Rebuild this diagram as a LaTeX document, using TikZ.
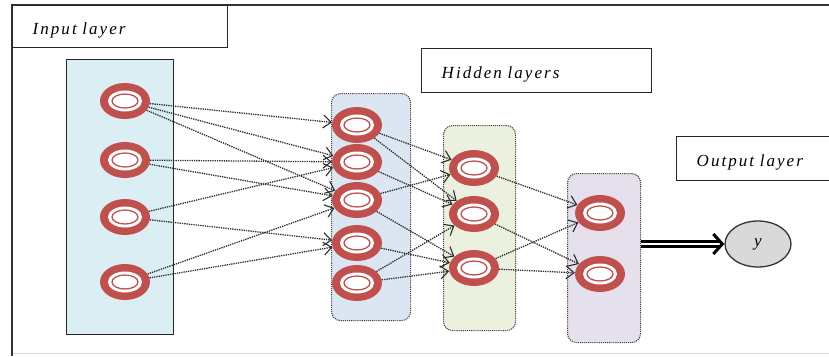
\documentclass[tikz,border=0pt]{standalone}
\usepackage{fontspec}
\newfontfamily\layerfont[LetterSpace=12]{Liberation Serif}
\usetikzlibrary{arrows.meta,positioning,shapes.geometric}
\definecolor{neuronred}{RGB}{192,80,77}
\definecolor{inputbg}{RGB}{218,238,243}
\definecolor{hiddenbgA}{RGB}{220,230,242}
\definecolor{hiddenbgB}{RGB}{235,241,222}
\definecolor{outputbg}{RGB}{229,224,236}
\definecolor{linkgray}{RGB}{45,45,45}

\tikzset{
  neuron/.style={ellipse, fill=neuronred, minimum width=50pt, minimum height=36pt, inner sep=0pt,
    path picture={
      \fill[white] (path picture bounding box.center) ellipse (17pt and 10.5pt);
      \draw[neuronred, line width=1.3pt] (path picture bounding box.center) ellipse (13pt and 7pt);
    }},
  inputbox/.style={draw=black!85, line width=1.4pt, fill=inputbg, inner sep=0pt, anchor=north west},
  groupbox/.style={draw=black!75, densely dotted, line width=1.1pt, rounded corners=9pt, inner sep=0pt, anchor=north west},
  labelbox/.style={draw=black!85, line width=1.4pt, fill=white, anchor=north west, align=left,
    inner xsep=20pt, text height=17pt, text depth=2pt, font=\layerfont\itshape\fontsize{17}{20}\selectfont},
  link/.style={draw=linkgray, densely dotted, line width=1.3pt,
    -{Straight Barb[length=8pt,width=13pt,line width=1.1pt]}},
  bigarrow/.style={draw=black, line width=3pt, double=white, double distance=2.2pt,
    -{Straight Barb[length=9pt,width=20pt]}},
}

\begin{document}
\begin{tikzpicture}[x=1pt, y=-1pt]
  \useasboundingbox (0,0) rectangle (829,356);
  \draw[black!15] (12,353) -- (829,353);
  \draw[black!80, line width=1.4pt] (12,356) -- (12,5) -- (840,5);

  \node[labelbox, text width=175pt, minimum height=42pt] (inlabel) at (12,5) {Input layer};
  \node[labelbox, text width=190pt, minimum height=44pt] (hidlabel) at (421,48) {Hidden layers};
  \node[labelbox, text width=124pt, minimum height=44pt] (outlabel) at (676,136) {Output layer};

  \node[inputbox, minimum width=107pt, minimum height=275pt] (ingrp) at (66,59) {};
  \node[groupbox, fill=hiddenbgA, minimum width=79pt, minimum height=227pt] (hidgrpA) at (331,93) {};
  \node[groupbox, fill=hiddenbgB, minimum width=72pt, minimum height=205pt] (hidgrpB) at (443,125) {};
  \node[groupbox, fill=outputbg, minimum width=73pt, minimum height=169pt] (outgrp) at (567,173) {};

  \foreach \n/\y in {1/101, 2/160, 3/217, 4/282}
    \node[neuron] (in\n) at (125,\y) {};
  \foreach \n/\y in {1/125, 2/162, 3/200, 4/243, 5/283}
    \node[neuron] (hA\n) at (357,\y) {};
  \foreach \n/\y in {1/168, 2/214, 3/268}
    \node[neuron] (hB\n) at (474,\y) {};
  \foreach \n/\y in {1/213, 2/274}
    \node[neuron] (out\n) at (600,\y) {};

  \foreach \a/\b in {in1/hA1, in1/hA2, in1/hA3, in2/hA2, in2/hA3, in3/hA2, in3/hA4, in4/hA3, in4/hA4,
                     hA1/hB1, hA1/hB2, hA2/hB2, hA3/hB1, hA3/hB3, hA4/hB3, hA5/hB2, hA5/hB3,
                     hB1/out1, hB3/out1, hB2/out2, hB3/out2}
    \draw[link] (\a) -- (\b);

  \node[ellipse, draw=black!80, line width=1.3pt, fill=black!15, minimum width=66pt, minimum height=46pt,
        font=\layerfont\itshape\fontsize{17}{20}\selectfont] (yout) at (758,244) {y};
  \draw[bigarrow] (outgrp.east |- yout) -- (yout);
\end{tikzpicture}
\end{document}
